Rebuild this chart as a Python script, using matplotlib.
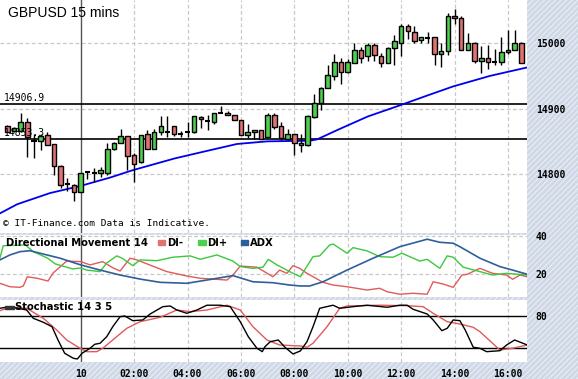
import matplotlib
matplotlib.use("Agg")
import matplotlib.pyplot as plt
import numpy as np

# ---------------- data ----------------
bars = list(range(-11, 67))  # 15-min bar index, 0 = 00:00 on the 10th
open_ = [14874, 14866, 14866, 14880, 14851, 14851, 14860, 14846, 14812, 14785, 14784,
         14772, 14803, 14802, 14802, 14801, 14838, 14848, 14858, 14829, 14818, 14861,
         14839, 14864, 14865, 14873, 14862, 14864, 14864, 14887, 14881, 14880, 14894,
         14894, 14891, 14882, 14859, 14864, 14867, 14856, 14891, 14873, 14854, 14862,
         14847, 14844, 14888, 14909, 14932, 14950, 14971, 14956, 14970, 14990, 14980,
         14997, 14981, 14970, 14993, 15001, 15026, 15017, 15005, 15008, 15009, 14984,
         14988, 15041, 15038, 14990, 15000, 14973, 14978, 14971, 14971, 14986, 14990, 15001]
high_ = [14875, 14872, 14893, 14886, 14861, 14861, 14864, 14846, 14814, 14794, 14785,
         14801, 14805, 14809, 14811, 14847, 14849, 14869, 14858, 14832, 14860, 14867,
         14869, 14889, 14889, 14874, 14866, 14880, 14889, 14889, 14890, 14894, 14904,
         14897, 14891, 14882, 14876, 14867, 14867, 14893, 14893, 14880, 14869, 14862,
         14862, 14891, 14923, 14933, 14966, 14983, 14977, 14976, 15000, 14994, 15001,
         15001, 14985, 14994, 15013, 15030, 15029, 15026, 15010, 15017, 15009, 15001,
         15046, 15052, 15041, 15016, 15002, 14995, 14998, 14991, 15009, 15020, 15020, 15002]
low_ = [14864, 14865, 14864, 14826, 14825, 14837, 14844, 14799, 14779, 14774, 14759,
        14772, 14792, 14788, 14796, 14798, 14837, 14848, 14807, 14788, 14817, 14839,
        14839, 14860, 14857, 14858, 14856, 14857, 14863, 14871, 14867, 14877, 14893,
        14890, 14882, 14859, 14855, 14853, 14853, 14856, 14869, 14852, 14852, 14829,
        14834, 14843, 14885, 14898, 14932, 14944, 14938, 14955, 14970, 14970, 14973,
        14973, 14964, 14969, 14967, 14980, 15006, 15000, 15000, 15000, 14967, 14964,
        14982, 15030, 14990, 14989, 14970, 14955, 14960, 14967, 14967, 14984, 14990, 14969]
close_ = [14865, 14871, 14880, 14856, 14851, 14858, 14845, 14812, 14784, 14785, 14772,
          14801, 14803, 14802, 14806, 14838, 14848, 14858, 14828, 14816, 14860, 14839,
          14864, 14873, 14865, 14861, 14862, 14864, 14888, 14884, 14881, 14893, 14894,
          14890, 14882, 14860, 14864, 14867, 14854, 14891, 14872, 14855, 14861, 14847,
          14844, 14888, 14909, 14932, 14951, 14971, 14956, 14971, 14989, 14978, 14998,
          14982, 14970, 14993, 15003, 15026, 15019, 15004, 15009, 15008, 14984, 14988,
          15041, 15038, 14990, 15000, 14973, 14978, 14972, 14971, 14986, 14990, 15001, 14970]

ma_x = [-12.1, -9.5, -4.6, 0, 4.5, 7.8, 14.1, 18.3, 23.4, 27.9, 34.3, 35.4, 38.8, 43.0,
        47.8, 51.9, 55.8, 61.3, 66.9]
ma_y = [14740, 14754, 14771, 14782, 14795, 14806, 14824, 14834, 14846, 14850, 14851,
        14853, 14869, 14888, 14905, 14920, 14934, 14950, 14963]

levels = [14906.9, 14853.3]
level_labels = ["14906.9", "14853.3"]

dip_x = [-12.1, -11.6, -8.3, -7.1, -5.0, -3.8, -1.2, 0, 0.9, 2.9, 3.9, 5.4, 6.2, 7.8, 8.9,
         11.4, 13.8, 16.4, 17.9, 20.4, 22.8, 23.9, 25.8, 27.3, 28.1, 29.4, 31.3, 32.9, 34.8,
         35.8, 37.3, 37.8, 39.9, 40.8, 42.9, 44.8, 46.8, 48.1, 50.8, 51.9, 53.8, 54.9, 55.8,
         57.3, 59.8, 61.7, 63.8, 66.9]
dip_y = [28.5, 34.9, 35.3, 31.8, 28.5, 25.4, 22.8, 23.3, 22.2, 21.4, 25.9, 29.6, 28.4, 24.5,
         27.5, 27.1, 28.9, 29.6, 27.8, 30.1, 26.9, 24.0, 23.1, 23.7, 27.8, 24.9, 21.4, 18.7,
         29.2, 29.6, 35.3, 35.8, 31.0, 33.9, 32.2, 29.2, 28.9, 31.0, 26.9, 27.8, 23.1, 29.6,
         28.9, 23.7, 21.4, 19.6, 20.5, 19.6]
dim_x = [-12.1, -10.6, -9.1, -8.6, -8.0, -6.5, -4.9, -4.1, -2.1, 0, 1.4, 3.3, 4.8, 5.9, 7.4,
         8.4, 12.9, 15.9, 17.9, 19.8, 21.9, 22.8, 23.9, 26.4, 28.8, 29.8, 30.9, 31.8, 32.8,
         33.9, 36.3, 37.8, 39.9, 42.9, 44.8, 45.9, 47.8, 49.8, 51.9, 52.8, 54.3, 55.8, 57.1,
         57.9, 59.8, 61.7, 63.8, 64.7, 65.8, 66.9]
dim_y = [15.3, 13.5, 13.2, 13.9, 18.7, 17.9, 16.5, 20.8, 26.9, 26.6, 24.9, 26.6, 23.4, 21.7,
         28.4, 27.5, 21.4, 19.1, 17.9, 17.5, 17.0, 19.6, 24.3, 23.7, 18.7, 22.2, 20.5, 24.5,
         23.1, 20.5, 15.8, 14.4, 13.5, 11.8, 12.7, 10.9, 9.6, 10.1, 9.6, 16.1, 14.9, 13.2,
         19.6, 20.0, 23.1, 20.5, 19.6, 17.4, 19.6, 18.7]
adx_x = [-12.1, -10.6, -9.1, -7.6, -6.1, -3.1, 0, 2.9, 5.9, 8.9, 11.9, 15.9, 18.9, 22.8, 25.8,
         28.8, 31.3, 32.9, 34.3, 36.3, 39.9, 43.8, 47.8, 51.9, 53.8, 55.8, 56.8, 59.8, 62.8,
         64.7, 66.9]
adx_y = [27.5, 30.1, 31.8, 32.3, 31.0, 28.4, 24.9, 22.2, 19.6, 17.5, 15.8, 15.3, 17.0, 19.3,
         16.1, 15.6, 14.4, 13.9, 13.9, 16.1, 22.2, 28.4, 34.4, 38.3, 36.7, 36.2, 34.4, 28.4,
         24.0, 22.2, 20.0]

k_x = [-12.1, -10.6, -8.1, -7.1, -5.6, -4.3, -3.4, -2.4, -1.1, -0.5, 0.2, 1.4, 2.1, 2.9, 3.9,
       4.8, 5.9, 6.6, 7.8, 9.3, 10.4, 12.3, 13.4, 14.4, 15.9, 17.4, 18.9, 20.9, 22.4, 23.9,
       25.1, 26.4, 27.2, 27.6, 28.4, 29.6, 30.6, 31.8, 32.9, 33.9, 34.8, 35.8, 37.8, 38.8,
       40.8, 42.9, 45.9, 47.8, 48.9, 49.8, 51.9, 52.8, 54.1, 54.9, 55.8, 56.8, 57.6, 58.8,
       59.8, 60.8, 62.8, 63.8, 65.0, 66.9]
k_y = [94.3, 97.3, 91.1, 75.7, 68.3, 60.1, 35.4, 10.7, 1.4, 0.1, 10.7, 20.0, 27.4, 29.3, 41.6,
       60.1, 78.7, 80.0, 71.3, 72.6, 83.7, 97.3, 98.6, 91.1, 85.0, 91.1, 100.0, 100.0, 97.3,
       69.4, 41.6, 20.0, 13.7, 23.0, 32.3, 35.4, 21.9, 9.4, 15.0, 32.3, 60.1, 94.3, 100.0,
       94.3, 97.3, 100.0, 96.2, 100.0, 100.0, 92.4, 83.7, 72.6, 52.7, 57.1, 72.6, 71.3, 54.0,
       21.9, 20.0, 13.7, 15.5, 26.1, 35.4, 26.1]
d_x = [-12.1, -10.6, -8.1, -5.6, -3.6, -2.1, -0.5, 0.9, 2.4, 3.3, 4.8, 6.9, 8.9, 11.9, 14.4,
       16.4, 18.9, 21.9, 23.9, 25.8, 27.9, 29.8, 32.9, 33.9, 34.8, 36.9, 38.8, 39.9, 44.8,
       48.9, 51.3, 52.8, 54.9, 56.8, 58.8, 59.8, 61.7, 62.8, 64.7, 66.9]
d_y = [89.8, 96.2, 94.3, 75.7, 54.0, 35.4, 23.0, 13.7, 13.7, 20.0, 35.4, 57.1, 69.4, 77.6, 91.1,
       88.0, 91.1, 100.0, 91.1, 60.1, 35.4, 26.1, 24.3, 21.9, 29.3, 60.1, 94.3, 98.6, 100.0,
       99.1, 97.3, 85.0, 69.4, 65.1, 59.0, 50.8, 29.3, 16.8, 20.0, 26.1]

tick_bars = [0, 8, 16, 24, 32, 40, 48, 56, 64]
tick_labels = ["10", "02:00", "04:00", "06:00", "08:00", "10:00", "12:00", "14:00", "16:00"]

# ---------------- style ----------------
W, H = 578, 379
BG = "#d0d8e6"
UP = "#4fcf4f"
DN = "#e27272"
MONO = "DejaVu Sans Mono"
XL = (-12.09, 66.9)

plt.rcParams["hatch.linewidth"] = 0.8
fig = plt.figure(figsize=(W / 100, H / 100), dpi=100, facecolor=BG)
fig.patches.append(plt.Rectangle((0, 0), 1, 1, transform=fig.transFigure, facecolor=BG,
                                 edgecolor="#e9eef6", hatch="//////", lw=0, zorder=-10))


def px_axes(top, bottom):
    return fig.add_axes([0, 1 - bottom / H, 527.3 / W, (bottom - top) / H])


axp = px_axes(0, 233)
axd = px_axes(235, 297)
axs = px_axes(300, 362)


def base(ax):
    ax.set_facecolor("white")
    for s in ax.spines.values():
        s.set_visible(False)
    ax.set_xlim(*XL)
    ax.yaxis.tick_right()
    ax.tick_params(axis="both", length=0, labelsize=7)
    for t in tick_bars:
        if t == 0:
            ax.axvline(t, color="#555555", lw=1.0, zorder=1)
        else:
            ax.axvline(t, color="#c8c8c8", lw=0.9, ls=(0, (3, 2)), zorder=1)


# ---- price panel ----
axp.set_ylim(14710, 15066)
axp.set_yticks([14800, 14900, 15000])
for y in [14800, 14900, 15000]:
    axp.axhline(y, color="#c8c8c8", lw=0.9, ls=(0, (3, 2)), zorder=1)
base(axp)
axp.set_xticks([])
axp.tick_params(axis="y", pad=6)
axp.set_yticklabels(["14800", "14900", "15000"], fontfamily=MONO, fontweight="bold", fontsize=7)

for lv, lb in zip(levels, level_labels):
    axp.axhline(lv, color="black", lw=1.2, zorder=2)
    axp.text(-11.5, lv + 2, lb, fontfamily=MONO, fontsize=7, va="bottom", ha="left", zorder=6)

axp.plot(ma_x, ma_y, color="#0000ee", lw=1.3, zorder=3)

o = np.array(open_, float)
h = np.array(high_, float)
l = np.array(low_, float)
c = np.array(close_, float)
x = np.array(bars, float)
axp.vlines(x, l, h, color="black", lw=1.0, zorder=4)
cols = [UP if cc > oo else DN for oo, cc in zip(o, c)]
body = np.abs(c - o)
mask = body > 0
axp.bar(x[mask], body[mask], bottom=np.minimum(o, c)[mask], width=0.68,
        color=np.array(cols)[mask], edgecolor="black", lw=1.0, zorder=5)
axp.hlines(o[~mask], x[~mask] - 0.38, x[~mask] + 0.38, color="black", lw=1.5, zorder=5)

axp.text(-11.7, 14717, "\u00a9 IT-Finance.com Data is Indicative.", fontfamily=MONO,
         fontsize=6.8, va="bottom", ha="left")
fig.text(8 / W, 1 - 13 / H, "GBPUSD 15 mins", fontsize=10, family="Liberation Sans",
         va="center", ha="left")

# ---- DMI panel ----
axd.set_ylim(8.15, 40.5)
axd.set_yticks([20, 40])
for y in [20, 40]:
    axd.axhline(y, color="#c8c8c8", lw=0.9, ls=(0, (3, 2)), zorder=1)
base(axd)
axd.set_xticks([])
axd.tick_params(axis="y", pad=6)
axd.set_yticklabels(["20", "40"], fontfamily=MONO, fontweight="bold", fontsize=7)
axd.plot(dim_x, dim_y, color="#e05a5a", lw=1.0, zorder=3)
axd.plot(dip_x, dip_y, color="#3cc83c", lw=1.0, zorder=3)
axd.plot(adx_x, adx_y, color="#2f5f9a", lw=1.2, zorder=3)

axd.text(-11.2, 36.5, "Directional Movement 14", fontsize=7.2, fontweight="bold",
         va="center", ha="left", zorder=6)
for sx, col, lab in [(11.6, DN, "DI-"), (17.6, UP, "DI+"), (24.0, "#2f5f9a", "ADX")]:
    axd.add_patch(plt.Rectangle((sx, 35.3), 1.1, 2.4, color=col, zorder=6))
    axd.text(sx + 1.4, 36.5, lab, fontsize=7.2, fontweight="bold", va="center", ha="left", zorder=6)

# ---- Stochastic panel ----
axs.set_ylim(-5.5, 109.7)
axs.set_yticks([80])
base(axs)
axs.tick_params(axis="y", pad=6)
axs.set_yticklabels(["80"], fontfamily=MONO, fontweight="bold", fontsize=7)
axs.axhline(80, color="black", lw=1.0, zorder=2)
axs.axhline(20, color="black", lw=1.0, zorder=2)
axs.plot(d_x, d_y, color="#e05a5a", lw=1.0, zorder=3)
axs.plot(k_x, k_y, color="black", lw=1.0, zorder=4)
axs.set_xticks(tick_bars)
axs.set_xticklabels(tick_labels, fontfamily=MONO, fontweight="bold", fontsize=7)
axs.tick_params(axis="x", pad=5)
axs.add_patch(plt.Rectangle((-11.4, 93), 1.4, 6, color="#333333", zorder=6))
axs.text(-9.8, 96, "Stochastic 14 3 5", fontsize=7.2, fontweight="bold", va="center",
         ha="left", zorder=6)

fig.savefig("out.png", dpi=100, facecolor=BG)
